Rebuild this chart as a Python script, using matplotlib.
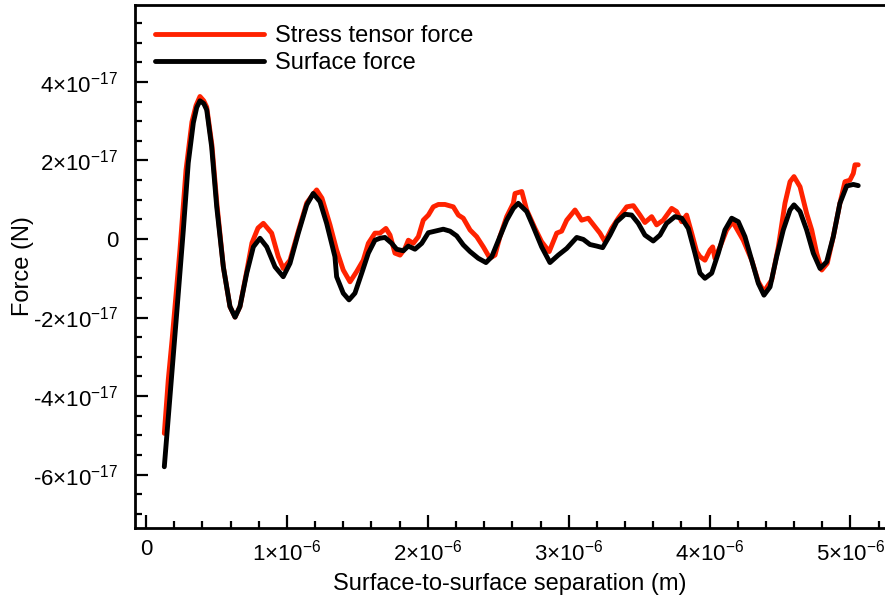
import matplotlib
matplotlib.use("Agg")
import matplotlib.pyplot as plt
from matplotlib.ticker import MultipleLocator, FuncFormatter, FixedLocator

plt.rcParams['font.family'] = ['Liberation Sans', 'DejaVu Sans']
plt.rcParams['mathtext.fontset'] = 'custom'
plt.rcParams['mathtext.rm'] = 'Liberation Sans'
plt.rcParams['mathtext.it'] = 'Liberation Sans:italic'
plt.rcParams['mathtext.sf'] = 'Liberation Sans'

# separation in micrometres, force in units of 1e-17 N
surf_x = [0.130, 0.170, 0.218, 0.265, 0.300, 0.336, 0.360, 0.383, 0.410, 0.431, 0.466, 0.502, 0.549, 0.596, 0.632,
          0.667, 0.715, 0.762, 0.809, 0.857, 0.916, 0.974, 1.022, 1.081, 1.141, 1.187, 1.235, 1.282,
          1.341, 1.353, 1.400, 1.441, 1.483, 1.531, 1.578, 1.625, 1.661, 1.696, 1.744, 1.779, 1.826,
          1.862, 1.909, 1.957, 2.004, 2.063, 2.110, 2.158, 2.205, 2.252, 2.300, 2.358, 2.413, 2.454,
          2.512, 2.560, 2.607, 2.642, 2.702, 2.749, 2.808, 2.867, 2.926, 2.986, 3.057, 3.104, 3.151,
          3.199, 3.241, 3.293, 3.341, 3.400, 3.447, 3.494, 3.541, 3.600, 3.648, 3.695, 3.754, 3.802,
          3.849, 3.896, 3.932, 3.967, 4.015, 4.062, 4.109, 4.157, 4.204, 4.251, 4.299, 4.346, 4.386,
          4.429, 4.476, 4.523, 4.571, 4.599, 4.642, 4.689, 4.736, 4.784, 4.831, 4.878, 4.925, 4.973,
          5.020, 5.055]
surf_y = [-5.80, -4.02, -1.89, 0.23, 1.94, 2.96, 3.35, 3.52, 3.45, 3.29, 2.35, 0.82, -0.71, -1.72, -1.99,
          -1.72, -0.87, -0.20, 0.02, -0.20, -0.71, -0.96, -0.62, 0.15, 0.87, 1.16, 0.95, 0.40,
          -0.45, -0.96, -1.38, -1.55, -1.38, -0.87, -0.36, -0.03, 0.02, 0.04, -0.11, -0.26, -0.30,
          -0.18, -0.26, -0.11, 0.16, 0.21, 0.25, 0.20, 0.08, -0.15, -0.32, -0.49, -0.60, -0.45,
          0.06, 0.48, 0.78, 0.91, 0.70, 0.31, -0.20, -0.60, -0.41, -0.24, 0.04, -0.01, -0.14,
          -0.18, -0.22, 0.10, 0.44, 0.63, 0.61, 0.40, 0.10, -0.05, 0.10, 0.40, 0.57, 0.53,
          0.27, -0.36, -0.87, -1.00, -0.87, -0.36, 0.23, 0.53, 0.44, 0.06, -0.54, -1.13, -1.43,
          -1.22, -0.45, 0.23, 0.74, 0.87, 0.70, 0.23, -0.36, -0.75, -0.58, 0.06, 0.91, 1.35,
          1.39, 1.36]

stress_x = [0.130, 0.158, 0.185, 0.241, 0.284, 0.326, 0.355, 0.383, 0.410, 0.431, 0.468, 0.504, 0.549, 0.596, 0.632,
            0.667, 0.715, 0.752, 0.795, 0.833, 0.892, 0.939, 0.974, 1.022, 1.081, 1.141, 1.178, 1.211,
            1.249, 1.306, 1.353, 1.400, 1.448, 1.495, 1.542, 1.578, 1.625, 1.661, 1.703, 1.732, 1.767,
            1.803, 1.838, 1.862, 1.897, 1.933, 1.968, 2.004, 2.039, 2.075, 2.122, 2.181, 2.217, 2.252,
            2.300, 2.347, 2.394, 2.441, 2.477, 2.512, 2.560, 2.607, 2.619, 2.667, 2.702, 2.761, 2.808,
            2.862, 2.915, 2.950, 2.986, 3.045, 3.092, 3.139, 3.187, 3.222, 3.258, 3.305, 3.352, 3.412,
            3.459, 3.506, 3.541, 3.589, 3.624, 3.671, 3.731, 3.766, 3.802, 3.837, 3.873, 3.908, 3.932,
            3.967, 4.003, 4.022, 4.038, 4.074, 4.121, 4.164, 4.204, 4.239, 4.299, 4.346, 4.386, 4.441,
            4.488, 4.535, 4.571, 4.599, 4.642, 4.689, 4.725, 4.760, 4.796, 4.835, 4.878, 4.925, 4.961,
            4.996, 5.020, 5.032, 5.055]
stress_y = [-4.95, -3.59, -2.57, -0.28, 1.76, 2.98, 3.40, 3.63, 3.52, 3.36, 2.39, 0.87, -0.71, -1.72, -1.99,
            -1.72, -0.82, -0.10, 0.28, 0.40, 0.15, -0.45, -0.75, -0.54, 0.20, 0.92, 1.10, 1.25,
            1.04, 0.36, -0.28, -0.79, -1.09, -0.83, -0.54, -0.11, 0.15, 0.15, 0.27, 0.10, -0.36,
            -0.41, -0.24, -0.03, -0.11, 0.06, 0.48, 0.61, 0.82, 0.88, 0.88, 0.82, 0.61, 0.53,
            0.23, 0.06, -0.20, -0.49, -0.41, 0.06, 0.57, 0.91, 1.16, 1.21, 0.74, 0.27, -0.07,
            -0.32, 0.15, 0.20, 0.48, 0.74, 0.48, 0.53, 0.31, 0.15, -0.07, 0.27, 0.53, 0.82,
            0.85, 0.61, 0.42, 0.57, 0.36, 0.48, 0.78, 0.70, 0.44, 0.61, 0.15, -0.32, -0.45,
            -0.54, -0.28, -0.20, -0.49, -0.20, 0.23, 0.44, 0.19, -0.03, -0.54, -1.09, -1.34, -1.04,
            -0.20, 0.91, 1.46, 1.59, 1.33, 0.65, 0.23, -0.36, -0.79, -0.62, 0.06, 0.91, 1.46,
            1.50, 1.67, 1.89, 1.89]

x_ticks = [0, 1, 2, 3, 4, 5]          # in 1e-6 m
y_ticks = [-6, -4, -2, 0, 2, 4]       # in 1e-17 N

fig = plt.figure(figsize=(8.85, 6.02), dpi=100)
ax = fig.add_axes([135/885, 74/602, 1 - 135/885, (528-5)/602])

sx = [v * 1e-6 for v in surf_x]
sy = [v * 1e-17 for v in surf_y]
tx = [v * 1e-6 for v in stress_x]
ty = [v * 1e-17 for v in stress_y]

ax.plot(tx, ty, color='#ff2200', lw=3.5, label='Stress tensor force', solid_capstyle='round', solid_joinstyle='round')
ax.plot(sx, sy, color='black', lw=3.5, label='Surface force', solid_capstyle='round', solid_joinstyle='round')

ax.set_xlim(-0.078e-6, 5.245e-6)
ax.set_ylim(-7.36e-17, 5.96e-17)

ax.xaxis.set_major_locator(FixedLocator([v * 1e-6 for v in x_ticks]))
ax.xaxis.set_minor_locator(MultipleLocator(0.2e-6))
ax.yaxis.set_major_locator(FixedLocator([v * 1e-17 for v in y_ticks]))
ax.yaxis.set_minor_locator(MultipleLocator(0.5e-17))

def fmt_x(v, pos):
    m = round(v / 1e-6)
    return '0' if m == 0 else f'{m}' + r'$\times$' + r'10$^{-6}$'

def fmt_y(v, pos):
    m = round(v / 1e-17)
    return '0' if m == 0 else f'{m}' + r'$\times$' + r'10$^{-17}$'

ax.xaxis.set_major_formatter(FuncFormatter(fmt_x))
ax.yaxis.set_major_formatter(FuncFormatter(fmt_y))

ax.tick_params(which='both', direction='in', top=False, right=False, labelsize=16, width=1.6, colors='black')
ax.tick_params(which='major', length=9.5)
ax.tick_params(which='minor', length=5)
ax.tick_params(axis='y', pad=12)
ax.tick_params(axis='x', pad=8)

for s in ['left', 'bottom', 'top']:
    ax.spines[s].set_linewidth(2.0)
ax.spines['right'].set_visible(False)

ax.set_xlabel('Surface-to-surface separation (m)', fontsize=17, labelpad=6)
ax.set_ylabel('Force (N)', fontsize=17, labelpad=-1)

ax.legend(loc='upper left', bbox_to_anchor=(0.0267, 0.962), frameon=False, fontsize=17,
          handlelength=4.6, handletextpad=0.5, labelspacing=0.22, borderaxespad=0, borderpad=0)

fig.savefig('out.png', dpi=100)
